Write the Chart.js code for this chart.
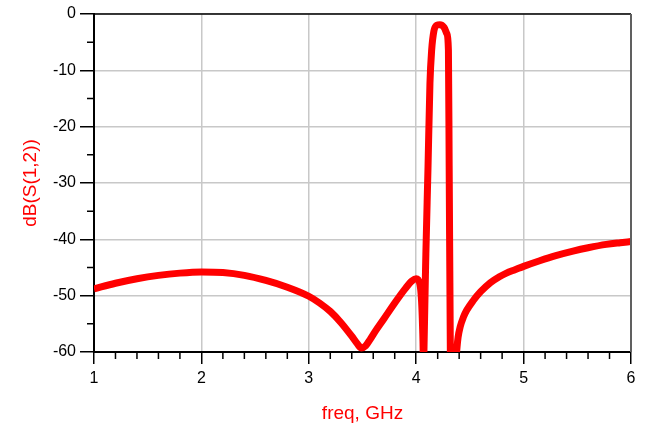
<!DOCTYPE html>
<html>
<head>
<meta charset="utf-8">
<script src="https://cdn.jsdelivr.net/npm/chart.js@4.4.1/dist/chart.umd.min.js"></script>
<style>
  body { margin: 0; background: #fff; }
  #wrap { width: 652px; height: 431px; }
</style>
</head>
<body>
<div id="wrap"><canvas id="myChart" width="652" height="431"></canvas></div>
<script>
// frequency points (GHz)
const freq = [1.0, 1.2, 1.4, 1.6, 1.8, 2.0, 2.2, 2.4, 2.6, 2.8,
    3.0, 3.1, 3.2, 3.3, 3.4, 3.45, 3.49, 3.53, 3.57, 3.62, 3.7, 3.8, 3.9, 3.96, 4.0,
    4.035, 4.05, 4.06, 4.065, 4.068, 4.072, 4.09, 4.11, 4.128, 4.144, 4.165,
    4.19, 4.22, 4.26, 4.285, 4.30, 4.307, 4.318, 4.33, 4.36, 4.37, 4.38, 4.39,
    4.41, 4.44, 4.47, 4.53, 4.6, 4.69, 4.77, 4.84, 4.92, 5.0, 5.15, 5.3, 5.46, 5.6, 5.77, 5.9, 6.0];

// dB(S(1,2))
const s12 = [-48.8, -47.8, -47.0, -46.4, -46.0, -45.8, -45.9, -46.4, -47.3, -48.5,
    -50.1, -51.3, -52.8, -54.8, -57.2, -58.5, -59.3, -58.9, -57.8, -56.3, -54.1, -51.3, -48.7, -47.4, -47.0,
    -48.0, -51.0, -56.0, -60.0, -66.0, -60.0, -42.6, -27.2, -12.3, -6.4, -3.0,
    -2.0, -1.9, -2.4, -3.5, -6.4, -27.0, -60.0, -72.0, -70.0, -62.0, -59.2, -57.4,
    -55.5, -53.8, -52.6, -50.9, -49.3, -47.7, -46.7, -46.0, -45.4, -44.8, -43.8, -42.9, -42.1, -41.5, -40.9, -40.6, -40.4];

const xMajor = [1, 2, 3, 4, 5, 6];
const yMajor = [0, -10, -20, -30, -40, -50, -60];

const fontFam = "'Liberation Sans', Arial, sans-serif";

// minor ticks and the top / right frame lines
const frameAndMinor = {
    id: 'frameAndMinor',
    afterDraw(chart) {
        const ctx = chart.ctx;
        const a = chart.chartArea;
        const xs = chart.scales.x;
        const ys = chart.scales.y;
        ctx.save();
        ctx.strokeStyle = '#000';
        ctx.lineWidth = 1.5;
        ctx.beginPath();
        for (let i = 0; i < xMajor.length - 1; i++) {
            for (let k = 1; k < 5; k++) {
                const px = xs.getPixelForValue(xMajor[i] + k * 0.2);
                ctx.moveTo(px, a.bottom);
                ctx.lineTo(px, a.bottom + 7);
            }
        }
        for (let i = 0; i < yMajor.length - 1; i++) {
            const py = ys.getPixelForValue(yMajor[i] - 5);
            ctx.moveTo(a.left - 7, py);
            ctx.lineTo(a.left, py);
        }
        ctx.stroke();

        ctx.lineWidth = 1.5;
        ctx.strokeStyle = '#000';
        ctx.beginPath();
        ctx.moveTo(a.left, a.top);
        ctx.lineTo(a.right, a.top);
        ctx.stroke();

        ctx.lineWidth = 2;
        ctx.strokeStyle = '#606060';
        ctx.beginPath();
        ctx.moveTo(a.right, a.top);
        ctx.lineTo(a.right, a.bottom);
        ctx.stroke();
        ctx.restore();
    }
};

const ctx = document.getElementById('myChart').getContext('2d');
const myChart = new Chart(ctx, {
    type: 'line',
    data: {
        datasets: [{
            label: 'dB(S(1,2))',
            data: freq.map((f, i) => ({ x: f, y: s12[i] })),
            borderColor: '#ff0000',
            borderWidth: 7,
            pointRadius: 0,
            cubicInterpolationMode: 'monotone',
            clip: 0
        }]
    },
    options: {
        responsive: false,
        animation: false,
        layout: { padding: { top: 14, right: 21, left: 0, bottom: 0 } },
        plugins: {
            legend: { display: false },
            tooltip: { enabled: false }
        },
        scales: {
            x: {
                type: 'linear',
                min: 1,
                max: 6,
                afterFit(scale) { scale.height = 79; },
                ticks: {
                    stepSize: 1,
                    color: '#000',
                    padding: 5,
                    font: { family: fontFam, size: 16 }
                },
                grid: {
                    color: '#c8c8c8',
                    lineWidth: 1.5,
                    tickColor: '#000',
                    tickLength: 12
                },
                border: { color: '#000', width: 2 },
                title: {
                    display: true,
                    text: 'freq, GHz',
                    color: '#ff0000',
                    font: { family: fontFam, size: 19 },
                    padding: { bottom: 6 }
                }
            },
            y: {
                min: -60,
                max: 0,
                afterFit(scale) { scale.width = 94; },
                ticks: {
                    stepSize: 10,
                    color: '#000',
                    padding: 4,
                    font: { family: fontFam, size: 16 }
                },
                grid: {
                    color: '#c8c8c8',
                    lineWidth: 1.5,
                    tickColor: '#000',
                    tickLength: 14
                },
                border: { color: '#000', width: 2 },
                title: {
                    display: true,
                    text: 'dB(S(1,2))',
                    color: '#ff0000',
                    font: { family: fontFam, size: 19 },
                    padding: { top: 19 }
                }
            }
        }
    },
    plugins: [frameAndMinor]
});
</script>
</body>
</html>
